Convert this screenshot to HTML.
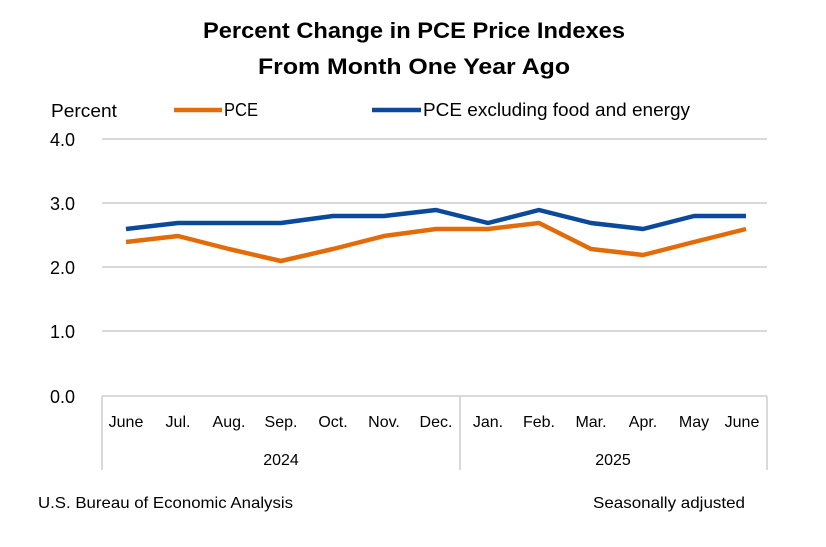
<!DOCTYPE html>
<html><head><meta charset="utf-8"><style>
body{margin:0;background:#fff;}
svg text{font-family:"Liberation Sans",sans-serif;fill:#000;}
</style></head><body>
<svg width="826" height="542" viewBox="0 0 826 542" xmlns="http://www.w3.org/2000/svg">
<text x="203" y="38" font-size="22" font-weight="bold" textLength="422" lengthAdjust="spacingAndGlyphs">Percent Change in PCE Price Indexes</text>
<text x="258" y="74" font-size="22" font-weight="bold" textLength="312" lengthAdjust="spacingAndGlyphs">From Month One Year Ago</text>
<text x="51" y="117" font-size="18" textLength="66" lengthAdjust="spacingAndGlyphs">Percent</text>
<line x1="174" y1="110" x2="222" y2="110" stroke="#E36C0A" stroke-width="4.5"/>
<text x="224" y="116" font-size="18" textLength="34" lengthAdjust="spacingAndGlyphs">PCE</text>
<line x1="372" y1="110" x2="421" y2="110" stroke="#0B4A9A" stroke-width="4.5"/>
<text x="423" y="116" font-size="18" textLength="267" lengthAdjust="spacingAndGlyphs">PCE excluding food and energy</text>
<g stroke="#d9d9d9" stroke-width="2">
<line x1="102" y1="139" x2="767" y2="139"/>
<line x1="102" y1="203" x2="767" y2="203"/>
<line x1="102" y1="267" x2="767" y2="267"/>
<line x1="102" y1="331" x2="767" y2="331"/>
<line x1="102" y1="396" x2="767" y2="396"/>
<line x1="102" y1="396" x2="102" y2="470"/>
<line x1="460" y1="396" x2="460" y2="470"/>
<line x1="767" y1="396" x2="767" y2="470"/>
</g>
<g font-size="18" text-anchor="start">
<text x="50" y="146">4.0</text><text x="50" y="210">3.0</text><text x="50" y="274">2.0</text><text x="50" y="338">1.0</text><text x="50" y="403">0.0</text>
</g>
<g font-size="16" text-anchor="middle">
<text x="126" y="427">June</text><text x="178" y="427">Jul.</text><text x="229" y="427">Aug.</text><text x="281" y="427">Sep.</text><text x="333" y="427">Oct.</text><text x="384" y="427">Nov.</text><text x="436" y="427">Dec.</text><text x="488" y="427">Jan.</text><text x="539" y="427">Feb.</text><text x="591" y="427">Mar.</text><text x="643" y="427">Apr.</text><text x="694" y="427">May</text><text x="742" y="427">June</text>
<text x="281" y="465">2024</text><text x="613" y="465">2025</text>
</g>
<polyline fill="none" stroke="#E36C0A" stroke-width="4.5" stroke-linejoin="round" points="126,242 178,236 229,249 281,261 333,249 384,236 436,229 488,229 539,223 591,249 643,255 694,242 746,229"/>
<polyline fill="none" stroke="#0B4A9A" stroke-width="4.5" stroke-linejoin="round" points="126,229 178,223 229,223 281,223 333,216 384,216 436,210 488,223 539,210 591,223 643,229 694,216 746,216"/>
<text x="38" y="508" font-size="16" textLength="255" lengthAdjust="spacingAndGlyphs">U.S. Bureau of Economic Analysis</text>
<text x="593" y="508" font-size="16" textLength="152" lengthAdjust="spacingAndGlyphs">Seasonally adjusted</text>
</svg>
</body></html>
